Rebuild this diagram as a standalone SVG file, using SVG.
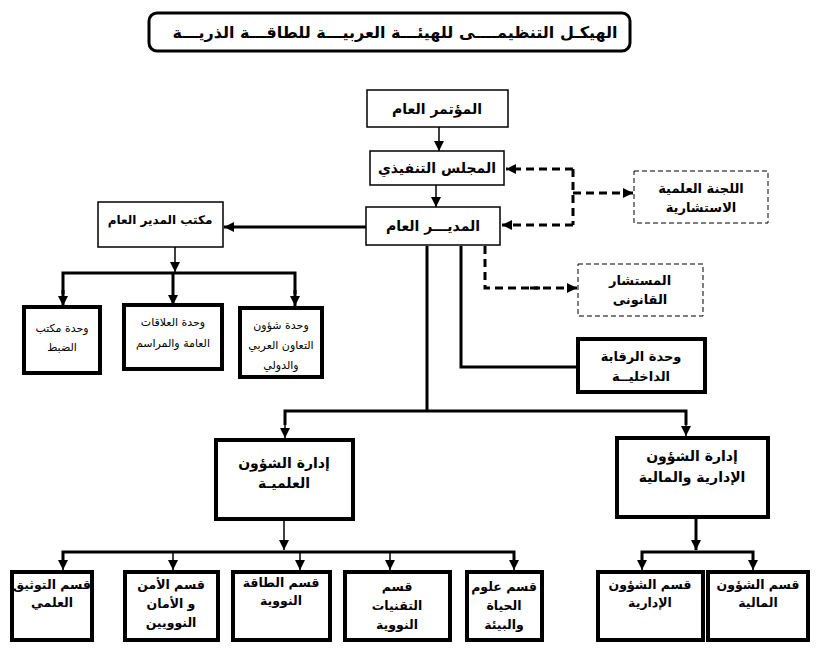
<svg xmlns="http://www.w3.org/2000/svg" width="838" height="648" viewBox="0 0 838 648">
<defs>
<style>
.t{font-family:"DejaVu Sans","Noto Sans",sans-serif;font-weight:bold;fill:#000;text-anchor:middle}
.n{font-weight:normal}
.b{font-size:12.5px}
.thin{fill:#fff;stroke:#000;stroke-width:1.5}
.thick{fill:#fff;stroke:#000;stroke-width:4}
.dbox{fill:#fff;stroke:#000;stroke-width:1;stroke-dasharray:5 3}
.ln{fill:none;stroke:#000;stroke-width:3}
.lt{fill:none;stroke:#000;stroke-width:1.5}
.dl{fill:none;stroke:#000;stroke-width:3;stroke-dasharray:8 5}
</style>
<marker id="ah" viewBox="0 0 10 10" refX="10" refY="5" markerWidth="10" markerHeight="10" markerUnits="userSpaceOnUse" orient="auto">
<path d="M0,0 L10,5 L0,10 z" fill="#000"/>
</marker>
</defs>
<rect width="838" height="648" fill="#fff"/>

<g id="title">
<rect x="149" y="13" width="481" height="38" rx="8" fill="#fff" stroke="#000" stroke-width="3"/>
<text class="t" x="395" y="38" font-size="16">الهيكـل التنظيمــــى للهيئـــة العربيـــة للطاقـــة الذريـــة</text>
</g>

<g id="connectors">
<line class="lt" x1="439" y1="127" x2="439" y2="151" marker-end="url(#ah)"/>
<line class="lt" x1="436" y1="185" x2="436" y2="207" marker-end="url(#ah)"/>
<line class="ln" x1="366" y1="227" x2="224" y2="227" stroke-width="2" marker-end="url(#ah)"/>
<line class="lt" x1="175" y1="247" x2="175" y2="272" marker-end="url(#ah)"/>
<polyline class="ln" points="63,294 63,273 295,273 295,294" stroke-width="2.5"/>
<line class="ln" x1="63" y1="290" x2="63" y2="306" stroke-width="2" marker-end="url(#ah)"/>
<line class="ln" x1="173" y1="273" x2="173" y2="305" stroke-width="2" marker-end="url(#ah)"/>
<line class="ln" x1="295" y1="290" x2="295" y2="306" stroke-width="2" marker-end="url(#ah)"/>
<polyline class="dl" points="573,169 573,225"/>
<line class="dl" x1="573" y1="169" x2="506" y2="169" marker-end="url(#ah)"/>
<line class="dl" x1="573" y1="225" x2="502" y2="225" marker-end="url(#ah)"/>
<line class="dl" x1="573" y1="193" x2="633" y2="193" stroke-width="2" marker-end="url(#ah)"/>
<polyline class="dl" points="485,246 485,288 540,288"/>
<line class="dl" x1="530" y1="288" x2="577" y2="288" stroke-width="2" marker-end="url(#ah)"/>
<polyline class="ln" points="461,246 461,367 578,367"/>
<line class="ln" x1="427" y1="246" x2="427" y2="411"/>
<polyline class="ln" points="285,425 285,411 686,411 686,425"/>
<line class="lt" x1="285" y1="420" x2="285" y2="438" marker-end="url(#ah)"/>
<line class="lt" x1="686" y1="420" x2="686" y2="436" marker-end="url(#ah)"/>
<line class="lt" x1="284" y1="520" x2="284" y2="550" marker-end="url(#ah)"/>
<polyline class="ln" points="63,560 63,552 514,552 514,560"/>
<line class="lt" x1="63" y1="555" x2="63" y2="570" marker-end="url(#ah)"/>
<line class="lt" x1="173" y1="552" x2="173" y2="570" marker-end="url(#ah)"/>
<line class="lt" x1="300" y1="552" x2="300" y2="570" marker-end="url(#ah)"/>
<line class="lt" x1="390" y1="552" x2="390" y2="570" marker-end="url(#ah)"/>
<line class="lt" x1="514" y1="555" x2="514" y2="570" marker-end="url(#ah)"/>
<line class="ln" x1="696" y1="518" x2="696" y2="550" stroke-width="2" marker-end="url(#ah)"/>
<polyline class="ln" points="642,560 642,552 753,552 753,560"/>
<line class="lt" x1="642" y1="555" x2="642" y2="570" marker-end="url(#ah)"/>
<line class="lt" x1="753" y1="555" x2="753" y2="570" marker-end="url(#ah)"/>
</g>

<g id="n-conference">
<rect class="thin" x="367" y="90" width="141" height="37"/>
<text class="t" x="437" y="114" font-size="14">المؤتمر العام</text>
</g>
<g id="n-council">
<rect class="thin" x="370" y="151" width="134" height="34"/>
<text class="t" x="437" y="173" font-size="14">المجلس التنفيذي</text>
</g>
<g id="n-dg">
<rect class="thin" x="366" y="207" width="134" height="38"/>
<text class="t" x="433" y="231" font-size="14">المديـــر العام</text>
</g>
<g id="n-dgoffice">
<rect class="thin" x="98" y="202" width="125" height="45"/>
<text class="t" x="160" y="224" font-size="12">مكتب المدير العام</text>
</g>
<g id="n-committee">
<rect class="dbox" x="634" y="171" width="134" height="52"/>
<text class="t" x="701" y="193" font-size="13">اللجنة العلمية</text>
<text class="t" x="701" y="212" font-size="13">الاستشارية</text>
</g>
<g id="n-legal">
<rect class="dbox" x="578" y="264" width="125" height="52"/>
<text class="t" x="640" y="285" font-size="13">المستشار</text>
<text class="t" x="640" y="304" font-size="13">القانونى</text>
</g>
<g id="n-audit">
<rect class="thick" x="578" y="339" width="127" height="53"/>
<text class="t" x="641" y="361" font-size="13">وحدة الرقابة</text>
<text class="t" x="641" y="381" font-size="13">الداخليــة</text>
</g>
<g id="n-registry">
<rect class="thick" x="24" y="307" width="76" height="66"/>
<text class="t n" x="62" y="332" font-size="11">وحدة مكتب</text>
<text class="t n" x="62" y="351" font-size="11">الضبط</text>
</g>
<g id="n-pr">
<rect class="thick" x="124" y="305" width="98" height="64"/>
<text class="t n" x="173" y="326" font-size="11">وحدة العلاقات</text>
<text class="t n" x="173" y="347" font-size="11">العامة والمراسم</text>
</g>
<g id="n-coop">
<rect class="thick" x="240" y="308" width="82" height="69"/>
<text class="t n" x="281" y="329" font-size="11">وحدة شؤون</text>
<text class="t n" x="281" y="349" font-size="11">التعاون العربي</text>
<text class="t n" x="281" y="369" font-size="11">والدولي</text>
</g>
<g id="n-sci">
<rect class="thick" x="216" y="440" width="137" height="79"/>
<text class="t" x="284" y="468" font-size="14">إدارة الشؤون</text>
<text class="t" x="284" y="488" font-size="14">العلميـة</text>
</g>
<g id="n-admin">
<rect class="thick" x="617" y="438" width="151" height="79"/>
<text class="t" x="692" y="461" font-size="14">إدارة الشؤون</text>
<text class="t" x="692" y="482" font-size="14">الإدارية والمالية</text>
</g>
<g id="n-doc">
<rect class="thick" x="12" y="572" width="80" height="68"/>
<text class="t b" x="52" y="589">قسم التوثيق</text>
<text class="t b" x="52" y="607">العلمي</text>
</g>
<g id="n-safety">
<rect class="thick" x="125" y="572" width="93" height="68"/>
<text class="t b" x="171" y="589">قسم الأمن</text>
<text class="t b" x="171" y="608">و الأمان</text>
<text class="t b" x="171" y="627">النوويين</text>
</g>
<g id="n-energy">
<rect class="thick" x="233" y="572" width="97" height="68"/>
<text class="t b" x="281" y="587">قسم الطاقة</text>
<text class="t b" x="281" y="605">النووية</text>
</g>
<g id="n-tech">
<rect class="thick" x="345" y="572" width="105" height="68"/>
<text class="t b" x="397" y="591">قسم</text>
<text class="t b" x="397" y="610">التقنيات</text>
<text class="t b" x="397" y="629">النووية</text>
</g>
<g id="n-life">
<rect class="thick" x="467" y="572" width="75" height="68"/>
<text class="t b" x="504" y="591">قسم علوم</text>
<text class="t b" x="504" y="610">الحياة</text>
<text class="t b" x="504" y="629">والبيئة</text>
</g>
<g id="n-adm">
<rect class="thick" x="598" y="572" width="105" height="68"/>
<text class="t b" x="650" y="589">قسم الشؤون</text>
<text class="t b" x="650" y="607">الإدارية</text>
</g>
<g id="n-fin">
<rect class="thick" x="708" y="572" width="100" height="68"/>
<text class="t b" x="758" y="589">قسم الشؤون</text>
<text class="t b" x="758" y="607">المالية</text>
</g>
</svg>
